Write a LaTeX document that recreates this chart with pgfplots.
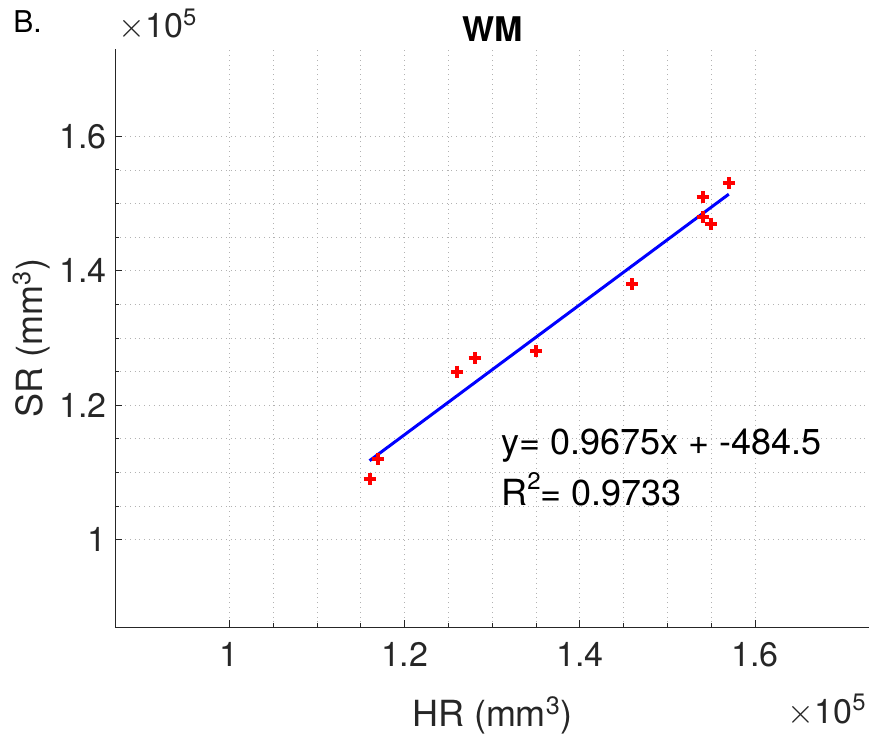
\documentclass[border=0pt]{standalone}
\usepackage{pgfplots}
\pgfplotsset{compat=1.18}
\usepackage{fontspec}
\setmainfont{TeX Gyre Heros}
\definecolor{axgray}{rgb}{0.15,0.15,0.15}
\begin{document}
\begin{tikzpicture}
\begin{axis}[
  scale only axis,
  width=376.75pt, height=289pt,
  xmin=0.87, xmax=1.73, ymin=0.87, ymax=1.73,
  axis x line=bottom, axis y line=left,
  axis line style={-, axgray, line width=0.5pt},
  xtick={1,1.2,1.4,1.6}, ytick={1,1.2,1.4,1.6},
  xticklabels={1,1.2,1.4,1.6}, yticklabels={1,1.2,1.4,1.6},
  minor x tick num=3, minor y tick num=3,
  tick align=inside,
  major tick length=3.5pt, minor tick length=2pt,
  tick style={axgray, line width=0.5pt},
  grid=both,
  major grid style={dotted, black!30, line width=0.4pt},
  minor grid style={dotted, black!30, line width=0.4pt},
  /pgf/number format/assume math mode=true,
  tick label style={font=\fontsize{17}{20}\selectfont, text=axgray},
  xticklabel style={yshift=-4pt},
  yticklabel style={xshift=-1pt},
  clip=false,
]
\addplot[only marks, mark=+, mark size=3pt, red, line width=2pt] coordinates {
  (1.16,1.09) (1.17,1.12) (1.26,1.25) (1.28,1.27) (1.35,1.28)
  (1.46,1.38) (1.54,1.51) (1.54,1.48) (1.55,1.47) (1.57,1.53)
};
\addplot[blue, line width=1.5pt] coordinates {(1.16,1.1175) (1.57,1.514)};
\node[anchor=base west, font=\fontsize{18}{21}\selectfont, inner sep=0pt] at (axis cs:1.31,1.127) {y= 0.9675x + -484.5};
\node[anchor=base west, font=\fontsize{18}{21}\selectfont, inner sep=0pt] at (axis cs:1.31,1.0504) {R\raisebox{0.45em}{\fontsize{12}{13}\selectfont 2}= 0.9733};
\end{axis}
\begin{scope}[shift={(current axis.south west)}]
\node[anchor=north west, inner sep=0pt, font=\fontsize{15}{17}\selectfont] at (-51.25pt,308.5pt) {B.};
\node[anchor=base west, inner sep=0pt, font=\fontsize{17}{20}\selectfont, text=axgray] at (1.25pt,294.5pt) {$\times$10\textsuperscript{5}};
\node[anchor=base, inner sep=0pt, font=\bfseries\fontsize{17}{20}\selectfont] at (188.75pt,292.5pt) {WM};
\node[anchor=base, rotate=90, inner sep=0pt, font=\fontsize{18}{21}\selectfont, text=axgray] at (-36.25pt,144.5pt) {SR (mm\textsuperscript{3})};
\node[anchor=base, inner sep=0pt, font=\fontsize{18}{21}\selectfont, text=axgray] at (188.5pt,-49.9pt) {HR (mm\textsuperscript{3})};
\node[anchor=base east, inner sep=0pt, font=\fontsize{17}{20}\selectfont, text=axgray] at (375.75pt,-48pt) {$\times$10\textsuperscript{5}};
\pgfresetboundingbox
\useasboundingbox (-57.75pt,-56.5pt) rectangle (381.75pt,313.5pt);
\end{scope}
\end{tikzpicture}
\end{document}
